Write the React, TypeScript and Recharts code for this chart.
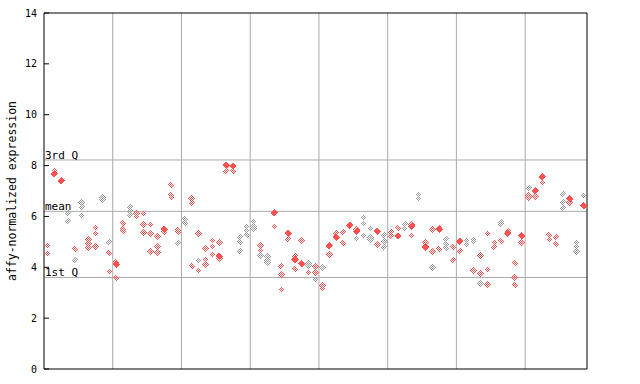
import {
  ScatterChart,
  Scatter,
  XAxis,
  YAxis,
  ReferenceLine,
} from "recharts";

// sample index (1..79) and expression value, split by how the marker is drawn
const grayPoints = [
  { i: 4, v: 6.13 }, { i: 4, v: 5.82 }, { i: 5, v: 4.27 },
  { i: 6, v: 6.55 }, { i: 6, v: 6.38 }, { i: 6, v: 6.04 },
  { i: 9, v: 6.75 }, { i: 9, v: 6.65 }, { i: 10, v: 4.99 },
  { i: 13, v: 6.36 }, { i: 13, v: 6.2 }, { i: 13, v: 6.04 },
  { i: 20, v: 4.94 }, { i: 21, v: 5.91 }, { i: 21, v: 5.75 }, { i: 23, v: 4.27 },
  { i: 29, v: 5.18 }, { i: 29, v: 4.98 }, { i: 29, v: 4.63 },
  { i: 30, v: 5.61 }, { i: 30, v: 5.45 }, { i: 30, v: 5.26 },
  { i: 31, v: 5.81 }, { i: 31, v: 5.61 }, { i: 31, v: 5.53 }, { i: 32, v: 4.47 },
  { i: 33, v: 4.43 }, { i: 33, v: 4.27 }, { i: 33, v: 4.2 },
  { i: 39, v: 4.16 }, { i: 39, v: 4.08 }, { i: 40, v: 3.53 }, { i: 41, v: 4.0 },
  { i: 46, v: 5.14 }, { i: 47, v: 5.97 }, { i: 47, v: 5.73 }, { i: 47, v: 5.26 },
  { i: 48, v: 5.53 }, { i: 48, v: 5.18 }, { i: 48, v: 5.1 },
  { i: 50, v: 5.26 }, { i: 50, v: 5.02 }, { i: 50, v: 4.79 },
  { i: 53, v: 5.69 }, { i: 53, v: 5.53 }, { i: 55, v: 6.85 }, { i: 55, v: 6.7 },
  { i: 57, v: 4.0 }, { i: 59, v: 5.1 }, { i: 59, v: 4.9 }, { i: 59, v: 4.75 },
  { i: 62, v: 5.06 }, { i: 62, v: 4.9 }, { i: 63, v: 5.1 }, { i: 63, v: 5.02 },
  { i: 64, v: 3.37 }, { i: 67, v: 5.77 }, { i: 67, v: 5.69 }, { i: 71, v: 7.12 },
  { i: 76, v: 6.87 }, { i: 76, v: 6.55 }, { i: 76, v: 6.32 },
  { i: 78, v: 4.98 }, { i: 78, v: 4.82 }, { i: 78, v: 4.63 }, { i: 79, v: 6.83 },
];

const redPoints = [
  { i: 1, v: 4.86 }, { i: 1, v: 4.55 }, { i: 2, v: 7.8 }, { i: 5, v: 4.71 },
  { i: 7, v: 5.1 }, { i: 7, v: 4.94 }, { i: 7, v: 4.77 },
  { i: 8, v: 5.56 }, { i: 8, v: 5.34 }, { i: 8, v: 4.82 },
  { i: 10, v: 4.56 }, { i: 10, v: 3.84 }, { i: 11, v: 4.22 }, { i: 11, v: 3.58 },
  { i: 12, v: 5.74 }, { i: 12, v: 5.5 }, { i: 12, v: 5.41 },
  { i: 14, v: 6.12 }, { i: 14, v: 5.99 },
  { i: 15, v: 6.12 }, { i: 15, v: 5.69 }, { i: 15, v: 5.38 },
  { i: 16, v: 5.69 }, { i: 16, v: 5.34 }, { i: 16, v: 4.63 },
  { i: 17, v: 5.22 }, { i: 17, v: 4.82 }, { i: 17, v: 4.59 }, { i: 18, v: 5.38 },
  { i: 19, v: 7.24 }, { i: 19, v: 6.83 }, { i: 19, v: 6.75 },
  { i: 20, v: 5.47 }, { i: 20, v: 5.38 },
  { i: 22, v: 6.71 }, { i: 22, v: 6.52 }, { i: 22, v: 4.04 },
  { i: 23, v: 5.34 }, { i: 23, v: 3.88 },
  { i: 24, v: 4.75 }, { i: 24, v: 4.31 }, { i: 24, v: 4.12 },
  { i: 25, v: 5.06 }, { i: 25, v: 4.82 }, { i: 25, v: 4.51 },
  { i: 26, v: 4.98 }, { i: 26, v: 4.35 }, { i: 27, v: 7.8 }, { i: 28, v: 7.8 },
  { i: 32, v: 4.86 }, { i: 32, v: 4.67 }, { i: 34, v: 5.61 },
  { i: 35, v: 4.04 }, { i: 35, v: 3.72 }, { i: 35, v: 3.13 }, { i: 36, v: 5.1 },
  { i: 37, v: 4.43 }, { i: 37, v: 3.92 }, { i: 38, v: 5.06 }, { i: 39, v: 3.8 },
  { i: 40, v: 4.04 }, { i: 40, v: 3.8 }, { i: 41, v: 3.29 }, { i: 41, v: 3.17 },
  { i: 42, v: 4.51 }, { i: 43, v: 5.34 }, { i: 44, v: 5.38 }, { i: 44, v: 4.94 },
  { i: 46, v: 5.49 }, { i: 49, v: 4.9 }, { i: 51, v: 5.38 }, { i: 51, v: 5.22 },
  { i: 52, v: 5.53 }, { i: 54, v: 5.69 }, { i: 54, v: 5.26 }, { i: 56, v: 4.97 },
  { i: 57, v: 5.49 }, { i: 57, v: 4.63 }, { i: 58, v: 5.57 }, { i: 58, v: 4.71 },
  { i: 60, v: 4.79 }, { i: 60, v: 4.27 }, { i: 61, v: 4.63 }, { i: 63, v: 3.88 },
  { i: 64, v: 4.47 }, { i: 64, v: 3.76 },
  { i: 65, v: 5.34 }, { i: 65, v: 3.92 }, { i: 65, v: 3.33 },
  { i: 66, v: 4.98 }, { i: 66, v: 4.79 }, { i: 67, v: 5.02 }, { i: 68, v: 5.41 },
  { i: 69, v: 4.16 }, { i: 69, v: 3.6 }, { i: 69, v: 3.29 }, { i: 70, v: 4.98 },
  { i: 71, v: 6.81 }, { i: 71, v: 6.75 }, { i: 72, v: 6.79 }, { i: 73, v: 7.33 },
  { i: 74, v: 5.26 }, { i: 74, v: 5.1 }, { i: 75, v: 5.18 }, { i: 75, v: 4.9 },
  { i: 77, v: 6.55 },
];

const solidPoints = [
  { i: 2, v: 7.68 }, { i: 3, v: 7.4 }, { i: 11, v: 4.12 }, { i: 18, v: 5.5 },
  { i: 26, v: 4.44 }, { i: 27, v: 8.02 }, { i: 28, v: 7.98 }, { i: 34, v: 6.15 },
  { i: 36, v: 5.34 }, { i: 37, v: 4.31 }, { i: 38, v: 4.14 }, { i: 42, v: 4.85 },
  { i: 43, v: 5.18 }, { i: 45, v: 5.65 }, { i: 46, v: 5.41 }, { i: 49, v: 5.41 },
  { i: 52, v: 5.23 }, { i: 54, v: 5.61 }, { i: 56, v: 4.8 }, { i: 58, v: 5.49 },
  { i: 61, v: 5.02 }, { i: 68, v: 5.34 }, { i: 70, v: 5.24 }, { i: 72, v: 7.01 },
  { i: 73, v: 7.56 }, { i: 77, v: 6.7 }, { i: 79, v: 6.42 },
];

const groupBreaks = [10.5, 20.5, 30.5, 40.5, 50.5, 60.5, 70.5];
const yTicks = [0, 2, 4, 6, 8, 10, 12, 14];
const statLines = [
  { label: "3rd Q", v: 8.22 },
  { label: "mean", v: 6.2 },
  { label: "1st Q", v: 3.6 },
];

const MONO = "'DejaVu Sans Mono', monospace";
const RED = "#ff5050";
const GRAY = "#999999";
const GRID = "#aaaaaa";

function diamond(fill: string, r: number) {
  return (props: any) => {
    const { cx, cy } = props;
    if (cx == null || cy == null) return <g />;
    const pts = `${cx},${cy - r} ${cx + r},${cy} ${cx},${cy + r} ${cx - r},${cy}`;
    return <polygon points={pts} fill={fill} shapeRendering="crispEdges" />;
  };
}

export default function App() {
  return (
    <div style={{ position: "absolute", left: 0, top: 0, background: "#fff" }}>
      <ScatterChart
        width={640}
        height={384}
        margin={{ top: 13, right: 43, bottom: 14, left: 0 }}
      >
        <defs>
          <pattern id="chkRed" width="2" height="2" patternUnits="userSpaceOnUse">
            <rect x="0" y="0" width="1" height="1" fill={RED} />
            <rect x="1" y="1" width="1" height="1" fill={RED} />
          </pattern>
          <pattern id="chkGray" width="2" height="2" patternUnits="userSpaceOnUse">
            <rect x="0" y="0" width="1" height="1" fill={GRAY} />
            <rect x="1" y="1" width="1" height="1" fill={GRAY} />
          </pattern>
        </defs>
        <XAxis
          dataKey="i"
          type="number"
          domain={[0.5, 79.5]}
          ticks={groupBreaks}
          tick={false}
          tickLine={false}
          height={1}
          axisLine={{ stroke: "#000" }}
        />
        <YAxis
          dataKey="v"
          type="number"
          domain={[0, 14]}
          ticks={yTicks}
          width={44}
          tickSize={-5}
          tickMargin={12}
          axisLine={{ stroke: "#000" }}
          tickLine={{ stroke: "#000" }}
          tick={{ fill: "#000", fontSize: 10, fontFamily: MONO }}
          label={{
            content: (p: any) => {
              const vb = p.viewBox || { x: 0, y: 13, width: 44, height: 356 };
              const x = vb.x + 12;
              const y = vb.y + vb.height / 2;
              return (
                <text
                  x={x}
                  y={y}
                  transform={`rotate(-90, ${x}, ${y})`}
                  textAnchor="middle"
                  dominantBaseline="central"
                  fontSize={11.5}
                  fontFamily={MONO}
                  fill="#000"
                >
                  affy-normalized expression
                </text>
              );
            },
          }}
        />
        <YAxis
          yAxisId="r"
          orientation="right"
          type="number"
          domain={[0, 14]}
          ticks={yTicks}
          width={10}
          tickSize={-5}
          tick={() => <g />}
          axisLine={{ stroke: "#000" }}
          tickLine={{ stroke: "#000" }}
        />
        {groupBreaks.map((b) => (
          <ReferenceLine key={b} x={b} stroke={GRID} />
        ))}
        <ReferenceLine y={14} stroke="#000" />
        {statLines.map((s) => (
          <ReferenceLine
            key={s.label}
            y={s.v}
            stroke={GRID}
            label={{
              value: s.label,
              position: "insideBottomLeft",
              offset: 1,
              fill: "#000",
              fontSize: 11,
              fontFamily: MONO,
            }}
          />
        ))}
        <Scatter
          data={grayPoints}
          shape={diamond("url(#chkGray)", 3.5)}
          isAnimationActive={false}
        />
        <Scatter
          data={redPoints}
          shape={diamond("url(#chkRed)", 3.5)}
          isAnimationActive={false}
        />
        <Scatter
          data={solidPoints}
          shape={diamond(RED, 3.8)}
          isAnimationActive={false}
        />
      </ScatterChart>
    </div>
  );
}
